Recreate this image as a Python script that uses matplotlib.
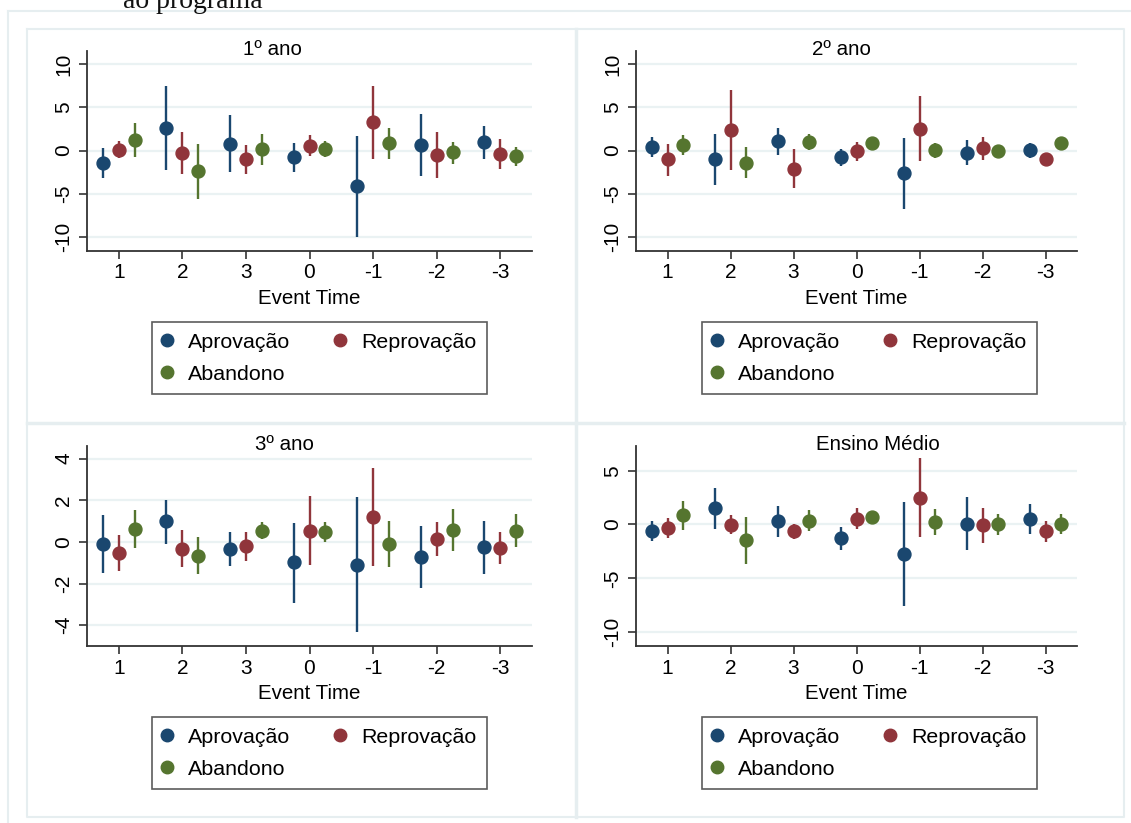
import matplotlib.pyplot as plt
from matplotlib.lines import Line2D

plt.rcParams["font.family"] = ["Liberation Sans", "DejaVu Sans"]

# categories on the x axis (event time)
event_time = ["1", "2", "3", "0", "-1", "-2", "-3"]
series = ["Aprovação", "Reprovação", "Abandono"]
colors = {"Aprovação": "#1a476f", "Reprovação": "#90353b", "Abandono": "#55752f"}

# 1º ano: point estimate, lower and upper CI bound
ano1_aprov = [-1.42, 2.65, 0.80, -0.80, -4.15, 0.69, 0.96]
ano1_aprov_lo = [-3.22, -2.20, -2.50, -2.50, -10.0, -2.90, -0.92]
ano1_aprov_hi = [0.35, 7.50, 4.10, 0.90, 1.70, 4.26, 2.84]
ano1_reprov = [0.12, -0.30, -1.00, 0.58, 3.26, -0.50, -0.42]
ano1_reprov_lo = [-0.90, -2.70, -2.70, -0.65, -1.00, -3.15, -2.15]
ano1_reprov_hi = [1.10, 2.15, 0.70, 1.80, 7.50, 2.10, 1.34]
ano1_aband = [1.27, -2.40, 0.15, 0.20, 0.85, -0.19, -0.61]
ano1_aband_lo = [-0.73, -5.57, -1.70, -0.73, -0.96, -1.50, -1.73]
ano1_aband_hi = [3.20, 0.73, 1.95, 1.07, 2.65, 1.00, 0.46]

# 2º ano
ano2_aprov = [0.38, -0.96, 1.12, -0.77, -2.58, -0.27, 0.04]
ano2_aprov_lo = [-0.80, -3.92, -0.46, -1.77, -6.70, -1.69, -0.85]
ano2_aprov_hi = [1.54, 1.96, 2.65, 0.19, 1.50, 1.19, 0.88]
ano2_reprov = [-1.00, 2.35, -2.08, -0.08, 2.54, 0.27, -0.96]
ano2_reprov_lo = [-2.88, -2.30, -4.38, -1.19, -1.19, -1.04, -1.35]
ano2_reprov_hi = [0.77, 6.96, 0.23, 1.00, 6.27, 1.62, -0.60]
ano2_aband = [0.65, -1.38, 0.96, 0.85, 0.04, -0.08, 0.92]
ano2_aband_lo = [-0.50, -3.20, 0.08, 0.40, -0.85, -0.58, 0.23]
ano2_aband_hi = [1.77, 0.42, 1.88, 1.20, 0.92, 0.46, 1.60]

# 3º ano
ano3_aprov = [-0.11, 0.98, -0.35, -0.99, -1.10, -0.74, -0.27]
ano3_aprov_lo = [-1.50, -0.10, -1.18, -2.93, -4.35, -2.21, -1.54]
ano3_aprov_hi = [1.28, 2.03, 0.48, 0.91, 2.14, 0.74, 0.99]
ano3_reprov = [-0.53, -0.32, -0.19, 0.54, 1.20, 0.16, -0.30]
ano3_reprov_lo = [-1.39, -1.22, -0.90, -1.12, -1.18, -0.67, -1.07]
ano3_reprov_hi = [0.34, 0.58, 0.48, 2.19, 3.54, 0.96, 0.46]
ano3_aband = [0.62, -0.66, 0.54, 0.46, -0.08, 0.58, 0.54]
ano3_aband_lo = [-0.30, -1.55, 0.14, -0.03, -1.20, -0.43, -0.24]
ano3_aband_hi = [1.55, 0.22, 0.93, 0.94, 0.99, 1.57, 1.34]

# Ensino Médio
em_aprov = [-0.59, 1.49, 0.28, -1.27, -2.73, 0.09, 0.50]
em_aprov_lo = [-1.49, -0.40, -1.18, -2.36, -7.59, -2.39, -0.87]
em_aprov_hi = [0.28, 3.38, 1.70, -0.25, 2.05, 2.54, 1.86]
em_reprov = [-0.28, -0.03, -0.65, 0.53, 2.51, -0.06, -0.56]
em_reprov_lo = [-1.24, -0.90, -1.39, -0.40, -1.18, -1.74, -1.61]
em_reprov_hi = [0.65, 0.84, 0.06, 1.49, 6.17, 1.49, 0.37]
em_aband = [0.87, -1.46, 0.37, 0.71, 0.25, 0.00, 0.06]
em_aband_lo = [-0.50, -3.63, -0.65, 0.37, -0.99, -0.96, -0.93]
em_aband_hi = [2.20, 0.71, 1.33, 1.05, 1.43, 0.96, 1.02]

panels = [
    ("1º ano", [(ano1_aprov, ano1_aprov_lo, ano1_aprov_hi),
                (ano1_reprov, ano1_reprov_lo, ano1_reprov_hi),
                (ano1_aband, ano1_aband_lo, ano1_aband_hi)],
     [10, 5, 0, -5, -10], (-11.6, 11.5)),
    ("2º ano", [(ano2_aprov, ano2_aprov_lo, ano2_aprov_hi),
                (ano2_reprov, ano2_reprov_lo, ano2_reprov_hi),
                (ano2_aband, ano2_aband_lo, ano2_aband_hi)],
     [10, 5, 0, -5, -10], (-11.6, 11.5)),
    ("3º ano", [(ano3_aprov, ano3_aprov_lo, ano3_aprov_hi),
                (ano3_reprov, ano3_reprov_lo, ano3_reprov_hi),
                (ano3_aband, ano3_aband_lo, ano3_aband_hi)],
     [4, 2, 0, -2, -4], (-5.0, 4.6)),
    ("Ensino Médio", [(em_aprov, em_aprov_lo, em_aprov_hi),
                      (em_reprov, em_reprov_lo, em_reprov_hi),
                      (em_aband, em_aband_lo, em_aband_hi)],
     [5, 0, -5, -10], (-11.3, 7.3)),
]

W, H = 1131, 823
fig = plt.figure(figsize=(W / 100, H / 100), dpi=100)


def px(x, y):
    return x / W, 1 - y / H


# page frame lines (screenshot of a document)
frame = "#e6eef0"
fig.add_artist(Line2D([8 / W, 1], [1 - 11 / H] * 2, color=frame, lw=1.5))
fig.add_artist(Line2D([8 / W] * 2, [0, 1 - 11 / H], color=frame, lw=1.5))
fig.add_artist(Line2D([27 / W, 1124 / W, 1124 / W, 27 / W, 27 / W],
                      [1 - 29 / H, 1 - 29 / H, 1 - 817 / H, 1 - 817 / H, 1 - 29 / H],
                      color=frame, lw=1.5))
fig.add_artist(Line2D([576 / W] * 2, [1 - 29 / H, 1 - 817 / H], color=frame, lw=2.5))
fig.add_artist(Line2D([27 / W, 1124 / W], [1 - 423 / H] * 2, color=frame, lw=2.5))
fig.text(123 / W, 1 - 8 / H, "ao programa", family=["Liberation Serif", "DejaVu Serif"],
         fontsize=20, va="baseline", ha="left", color="#111111")

# pixel boxes: left, right, top, bottom
boxes = [(87, 532, 51, 251), (636, 1077, 51, 251), (87, 532, 446, 646), (636, 1077, 446, 646)]
title_x = [272, 841, 284, 878]
legend_box = [(152, 322), (702, 322), (152, 717), (702, 717)]
offsets = [-0.25, 0.0, 0.25]
xpos = list(range(1, len(event_time) + 1))

for i, (title, data, yticks, ylim) in enumerate(panels):
    l, r, t, b = boxes[i]
    ax = fig.add_axes([l / W, 1 - b / H, (r - l) / W, (b - t) / H])
    for s, (vals, lo, hi), off in zip(series, data, offsets):
        xs = [x + off for x in xpos]
        ax.vlines(xs, lo, hi, color=colors[s], lw=1.7, zorder=3)
        ax.plot(xs, vals, "o", color=colors[s], ms=9.3, zorder=4, label=s)
    ax.set_xlim(0.5, 7.5)
    ax.set_ylim(*ylim)
    ax.set_xticks(xpos)
    ax.set_xticklabels(event_time, fontsize=15)
    ax.set_yticks(yticks)
    ax.set_yticklabels([str(v) for v in yticks], fontsize=15, rotation=90, va="center")
    for v in yticks:
        ax.axhline(v, color="#eaf2f3", lw=1.6, zorder=1)
    for sp in ["top", "right"]:
        ax.spines[sp].set_visible(False)
    for sp in ["left", "bottom"]:
        ax.spines[sp].set_color("#333333")
        ax.spines[sp].set_linewidth(1.3)
    ax.tick_params(length=6, width=1.2, color="#333333", pad=3)
    ax.tick_params(axis="y", pad=4)
    ax.set_xlabel("Event Time", fontsize=14.8, labelpad=5)
    tx, ty = px(title_x[i], t + 4)
    fig.text(tx, ty, title, fontsize=14.8, ha="center", va="baseline")

    handles = [Line2D([], [], marker="o", ls="", color=colors[s], ms=9) for s in series]
    order = [0, 2, 1]
    lx, ly = legend_box[i]
    leg = fig.legend([handles[k] for k in order], [series[k] for k in order],
                     ncol=2, loc="upper left", bbox_to_anchor=px(lx, ly),
                     fontsize=15.4, frameon=True, fancybox=False, edgecolor="#333333",
                     handlelength=0.4, handletextpad=0.78, columnspacing=2.13,
                     labelspacing=0.6, borderpad=0.5, borderaxespad=0)
    leg.get_frame().set_linewidth(1.2)

fig.savefig("out.png", dpi=100)
